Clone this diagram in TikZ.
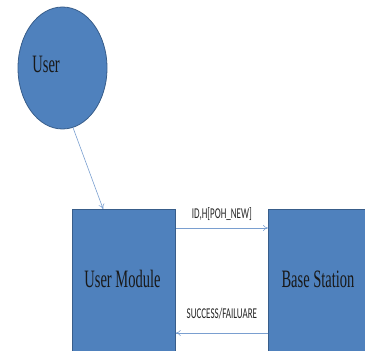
\documentclass[tikz,border=0pt]{standalone}
\usepackage{fontspec}
\setmainfont{Liberation Serif}
\newfontfamily\serifnarrow[FakeStretch=0.58]{Liberation Serif}
\newfontfamily\labelnarrow[FakeStretch=0.6]{Carlito}
\usetikzlibrary{arrows.meta,calc,shapes.geometric}

\definecolor{azul}{HTML}{4F81BD}
\definecolor{borda}{HTML}{385D8A}
\definecolor{seta}{HTML}{7A9FD0}

\tikzset{
  bloco/.style={draw=borda,fill=azul,line width=0.8pt,text=black!90,
    font=\serifnarrow\fontsize{25}{25}\selectfont},
  link/.style={draw=seta,line width=0.6pt,-{To[length=5pt,width=6pt]}},
  rotulo/.style={font=\labelnarrow\fontsize{15}{15}\selectfont,text=black!85}
}

\begin{document}
\begin{tikzpicture}[x=1pt,y=1pt]
	\useasboundingbox (0,0) rectangle (365,351);
	\clip (0,0) rectangle (365,351);
	% usuario
	\node[bloco,ellipse,minimum width=89pt,minimum height=122pt,inner sep=0pt] (user) at (62.5,283) {};
	\node[bloco,draw=none,fill=none,anchor=base west,inner sep=0pt] (usertxt) at (32,278) {User};
	% blocos
	\node[bloco,minimum width=103pt,minimum height=150pt,anchor=north west] (module) at (72,142) {};
	\node[bloco,minimum width=100pt,minimum height=150pt,anchor=north west] (base) at (268,142) {};
	\node[bloco,draw=none,fill=none,anchor=base] (moduletxt) at (122.5,63) {User Module};
	\node[bloco,draw=none,fill=none,anchor=base] (basetxt) at (318,63) {Base Station};
	% setas
	\draw[link] (user.-80) -- ($(module.north west)!0.3!(module.north east)$);
	\draw[link] ([yshift=-19pt]module.north east) -- ([yshift=-19pt]base.north west)
		node[rotulo,midway,above=4pt] (pedido) {ID,H[POH\_NEW]};
	\coordinate (fim) at ($(module.east |- 0,0)+(0,18)$);
	\coordinate (ini) at ($(base.west |- 0,0)+(0,18)$);
	\draw[link] (ini) -- (fim)
		node[rotulo,midway,above=10pt] (resposta) {SUCCESS/FAILUARE};
\end{tikzpicture}
\end{document}
